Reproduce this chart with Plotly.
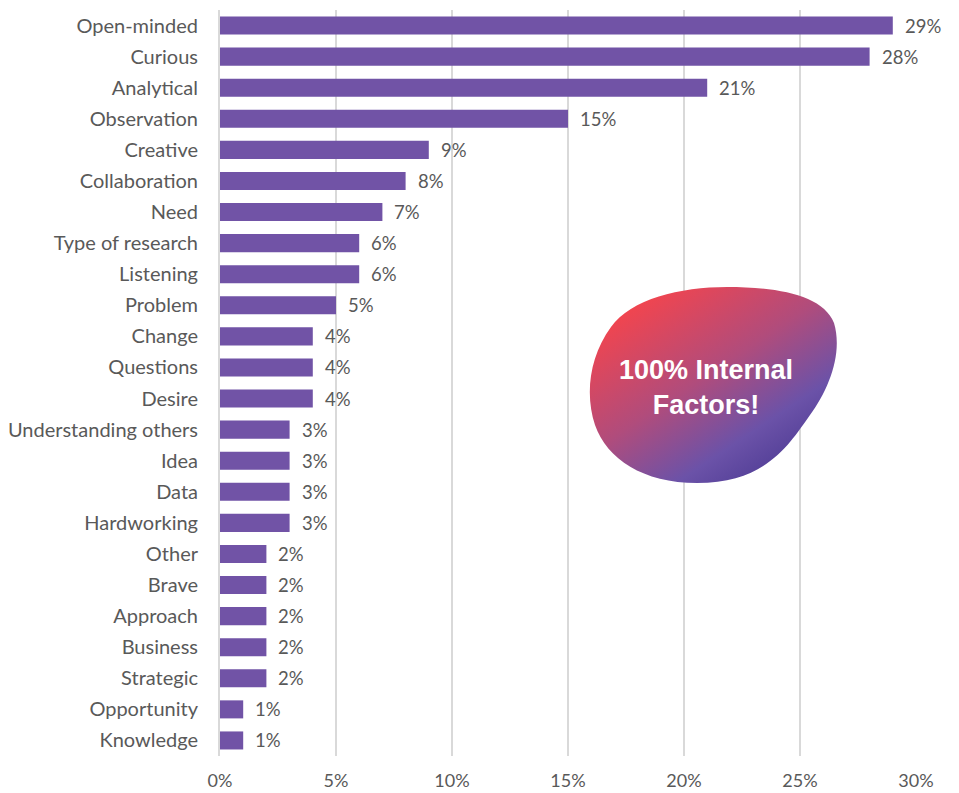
import base64
import plotly.graph_objects as go

# Survey responses: share of mentions per factor (percent)
categories = [
    "Open-minded", "Curious", "Analytical", "Observation", "Creative",
    "Collaboration", "Need", "Type of research", "Listening", "Problem",
    "Change", "Questions", "Desire", "Understanding others", "Idea", "Data",
    "Hardworking", "Other", "Brave", "Approach", "Business", "Strategic",
    "Opportunity", "Knowledge",
]
values = [29, 28, 21, 15, 9, 8, 7, 6, 6, 5, 4, 4, 4, 3, 3, 3, 3, 2, 2, 2, 2, 2, 1, 1]
tick_vals = [0, 5, 10, 15, 20, 25, 30]
tick_text = [f"{t}%" for t in tick_vals]

GREY = "#595959"
BAR = "#7153a6"
FONT = "Lato, Open Sans, sans-serif"

W, H = 959, 793
L, R, T, B = 220, 43, 10, 37
pw, ph = W - L - R, H - T - B


def px_to_paper(x, y):
    """Convert page pixel position to paper coordinates of the plot area."""
    return (x - L) / pw, 1 - (y - T) / ph


fig = go.Figure(
    go.Bar(
        x=values,
        y=categories,
        orientation="h",
        marker=dict(color=BAR, line=dict(width=0)),
        width=0.58,
        hoverinfo="x+y",
    )
)

# value labels to the right of each bar
for cat, v in zip(categories, values):
    fig.add_annotation(
        x=v, y=cat, text=f"{v}%", xanchor="left", yanchor="middle",
        xshift=10, showarrow=False, font=dict(family=FONT, size=18.5, color=GREY),
    )

# decorative gradient blob behind the callout text
blob_svg = """<svg xmlns='http://www.w3.org/2000/svg' width='255' height='204' viewBox='0 0 255 204'>
<defs><linearGradient id='g' x1='0.12' y1='0.08' x2='0.85' y2='0.95'>
<stop offset='0' stop-color='#f8444a'/>
<stop offset='0.45' stop-color='#b04c7c'/>
<stop offset='0.75' stop-color='#6b52a8'/>
<stop offset='1' stop-color='#4a3891'/>
</linearGradient></defs>
<path d='M 142,4 C 192,4 238,12 249,40 C 258,70 244,106 225,132 C 205,160 182,200 112,200 C 58,200 22,176 10,142 C 0,112 4,74 26,44 C 46,16 95,4 142,4 Z' fill='url(#g)'/>
</svg>"""
blob_uri = "data:image/svg+xml;base64," + base64.b64encode(blob_svg.encode()).decode()

bx, by = px_to_paper(585, 283)
fig.add_layout_image(
    source=blob_uri, xref="paper", yref="paper",
    x=bx, y=by, sizex=255 / pw, sizey=204 / ph,
    xanchor="left", yanchor="top", sizing="stretch", layer="above",
)

tx, ty = px_to_paper(706, 387)
fig.add_annotation(
    text="<b>100% Internal<br>Factors!</b>", xref="paper", yref="paper",
    x=tx, y=ty, xanchor="center", yanchor="middle", showarrow=False,
    font=dict(family="Liberation Sans, Arial, sans-serif", size=27, color="white"),
    align="center",
)

fig.update_layout(
    width=W, height=H,
    margin=dict(l=L, r=R, t=T, b=B),
    paper_bgcolor="white", plot_bgcolor="white",
    showlegend=False,
    font=dict(family=FONT, size=18, color=GREY),
    xaxis=dict(
        range=[0, 30], tickvals=tick_vals, ticktext=tick_text,
        showgrid=True, gridcolor="#d9d9d9", gridwidth=2,
        zeroline=False, showline=False, ticks="",
        ticklabelstandoff=12, automargin=False, fixedrange=True,
        tickfont=dict(size=18),
    ),
    yaxis=dict(
        categoryorder="array", categoryarray=categories, autorange="reversed",
        showgrid=False, zeroline=False, ticks="",
        showline=True, linecolor="#d9d9d9", linewidth=2,
        ticklabelstandoff=16, automargin=False, fixedrange=True,
        tickfont=dict(size=20),
    ),
)

fig.write_html("out.html")
